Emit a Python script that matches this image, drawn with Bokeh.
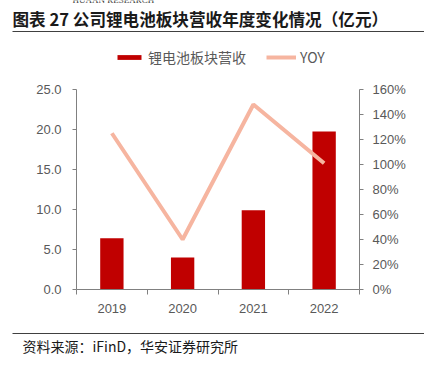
from bokeh.plotting import figure
from bokeh.layouts import column
from bokeh.models import (Range1d, LinearAxis, FixedTicker, NumeralTickFormatter,
                          Label, Legend, LegendItem, ColumnDataSource)
from bokeh.embed import file_html
from bokeh.resources import INLINE

years = ["2019", "2020", "2021", "2022"]
revenue = [6.4, 4.0, 9.9, 19.75]
yoy = [1.25, 0.40, 1.48, 1.01]

title_text = "图表 27 公司锂电池板块营收年度变化情况（亿元）"
source_text = "资料来源：iFinD，华安证券研究所"
brand_text = "HUAAN RESEARCH"
bar_name = "锂电池板块营收"
line_name = "YOY"

W = 424
HEAD_H, MAIN_H, FOOT_H = 36, 294, 36
GRAY = "#595959"
AXC = "#808080"
FONT = "Liberation Sans"
CJK = "Noto Sans CJK SC"

# ---------- header ----------
head = figure(width=W, height=HEAD_H, output_backend="svg", toolbar_location=None,
              x_range=Range1d(0, W), y_range=Range1d(HEAD_H, 0),
              x_axis_location=None, y_axis_location=None, min_border=0,
              outline_line_color=None, frame_align=False)
head.grid.visible = False
head.add_layout(Label(x=72, y=-1, text=brand_text, text_font="Liberation Serif",
                      text_font_size="9px", text_color="#333333", text_baseline="middle"))
head.add_layout(Label(x=12, y=18.5, text=title_text, text_font=CJK, text_font_size="16.6px",
                      text_font_style="bold", text_color="#1a1a1a", text_baseline="middle"))
head.segment(x0=[12], y0=[31], x1=[W], y1=[31], line_color="#404040", line_width=1)

# ---------- main chart ----------
xpos = [i + 0.5 for i in range(len(years))]
src = ColumnDataSource(dict(x=xpos, rev=revenue, yoy=yoy))

p = figure(width=W, height=MAIN_H, output_backend="svg", toolbar_location=None,
           x_range=Range1d(0, len(years)), y_range=Range1d(0, 30.5),
           min_border_left=76, min_border_right=65, min_border_top=9, min_border_bottom=41,
           outline_line_color=None, background_fill_color="white", border_fill_color="white",
           frame_align=False)
p.extra_y_ranges = {"yoy": Range1d(0, 1.952)}
p.xgrid.visible = False
p.ygrid.visible = False

bars = p.vbar(x="x", top="rev", width=0.33, source=src, fill_color="#C00000", line_color=None)
line = p.line(x="x", y="yoy", source=src, y_range_name="yoy", line_color="#F6B5A0", line_width=4)

xa = p.xaxis[0]
xa.ticker = FixedTicker(ticks=xpos, minor_ticks=list(range(len(years) + 1)))
xa.major_label_overrides = {x: y for x, y in zip(xpos, years)}
xa.major_tick_line_color = None
xa.minor_tick_line_color = AXC
xa.minor_tick_out = 5
xa.minor_tick_in = 0
xa.axis_line_color = AXC
xa.major_label_text_font = FONT
xa.major_label_text_font_size = "13px"
xa.major_label_text_color = GRAY
xa.major_label_standoff = 8

ya = p.yaxis[0]
ya.ticker = FixedTicker(ticks=[0, 5, 10, 15, 20, 25])
ya.formatter = NumeralTickFormatter(format="0.0")
ya.bounds = (0, 25)
ya.axis_line_color = AXC
ya.major_tick_line_color = AXC
ya.major_tick_out = 4
ya.major_tick_in = 0
ya.minor_tick_line_color = None
ya.major_label_text_font = FONT
ya.major_label_text_font_size = "13px"
ya.major_label_text_color = GRAY
ya.major_label_standoff = 11

ra = LinearAxis(y_range_name="yoy", ticker=FixedTicker(ticks=[i * 0.2 for i in range(9)]),
                formatter=NumeralTickFormatter(format="0%"), bounds=(0, 1.6))
ra.axis_line_color = AXC
ra.major_tick_line_color = AXC
ra.major_tick_out = 4
ra.major_tick_in = 0
ra.minor_tick_line_color = None
ra.major_label_text_font = FONT
ra.major_label_text_font_size = "13px"
ra.major_label_text_color = GRAY
ra.major_label_standoff = 9
p.add_layout(ra, "right")

legend = Legend(items=[LegendItem(label=bar_name, renderers=[bars]),
                       LegendItem(label=line_name, renderers=[line])],
                orientation="horizontal", location=(38, 222),
                glyph_width=30, glyph_height=6, label_standoff=4, spacing=20,
                label_text_font=CJK, label_text_font_size="14px", label_text_color=GRAY,
                background_fill_alpha=0, border_line_color=None, padding=0, margin=0)
p.add_layout(legend, "center")

# ---------- footer ----------
foot = figure(width=W, height=FOOT_H, output_backend="svg", toolbar_location=None,
              x_range=Range1d(0, W), y_range=Range1d(FOOT_H, 0),
              x_axis_location=None, y_axis_location=None, min_border=0,
              outline_line_color=None, frame_align=False)
foot.grid.visible = False
foot.segment(x0=[12], y0=[3], x1=[W], y1=[3], line_color="#404040", line_width=1)
foot.add_layout(Label(x=22, y=15.5, text=source_text, text_font=CJK, text_font_size="14px",
                      text_color="#1a1a1a", text_baseline="middle"))

layout = column(head, p, foot, spacing=0)
open("out.html", "w").write(file_html(layout, INLINE))
